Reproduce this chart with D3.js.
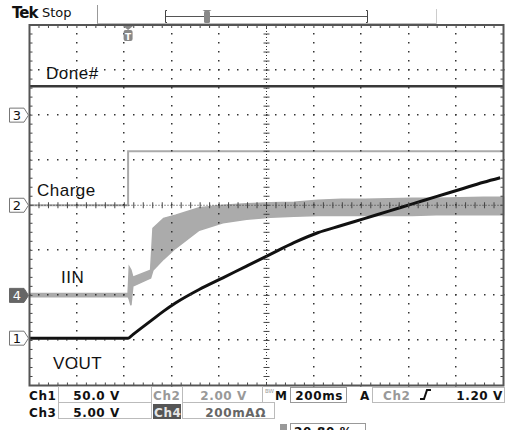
<!DOCTYPE html>
<html>
<head>
<meta charset="utf-8">
<script src="https://cdn.jsdelivr.net/npm/d3@7"></script>
<style>
  body { margin: 0; background: #fff; }
  svg { display: block; }
  .lbl { font-family: "Liberation Sans", Arial, sans-serif; font-size: 17px; letter-spacing: 0.5px; fill: #111; }
  .ro { font-family: "DejaVu Sans", sans-serif; font-size: 12px; font-weight: bold; letter-spacing: 0.6px; }
</style>
</head>
<body>
<div id="scope"></div>
<script>
// time axis in ms relative to trigger (200 ms/div, trigger at 20.8 %)
const timeRange = [-416, 1584];

// Ch1 VOUT (V)
const voutTime = [-416, 0, 20, 50, 100, 150, 200, 300, 400, 500, 600, 700, 800, 900, 1000, 1100, 1200, 1300, 1400, 1500, 1570];
const voutVolts = [0, 0, 4, 10, 20, 30, 39, 54, 67, 80, 93, 106, 117, 125, 133, 141, 149, 157, 165, 173, 178];

// Ch2 Charge (V)
const chargeTime = [-416, 0, 0, 1584];
const chargeVolts = [0, 0, 2.4, 2.4];

// Ch3 Done# (V)
const doneTime = [-416, 1584];
const doneVolts = [3.2, 3.2];

// Ch4 IIN (mA), noisy band: upper and lower envelope
const iinTime = [-416, 0, 5, 12, 20, 95, 105, 150, 200, 300, 400, 500, 600, 700, 800, 900, 1000, 1100, 1200, 1300, 1400, 1500, 1584];
const iinHigh = [8, 8, 125, 112, 81, 112, 298, 342, 356, 389, 400, 407, 411, 413, 422, 427, 427, 429, 431, 431, 433, 435, 435];
const iinLow = [-6, -6, -17, -44, 41, 77, 112, 161, 209, 289, 322, 338, 347, 351, 355, 355, 355, 355, 355, 358, 358, 358, 358];

// channel settings: units per division and reference level (divisions)
const chNames = ["1", "2", "3", "4"];
const chPerDiv = [50, 2, 5, 200];
const chRefDiv = [-2.95, 0, 2, -2];

const W = 505, H = 430;
const plot = {left: 29.5, right: 503.5, top: 25, bottom: 385.5};

const svg = d3.select("#scope").append("svg")
    .attr("width", W)
    .attr("height", H);

const x = d3.scaleLinear().domain(timeRange).range([plot.left, plot.right]);
const y = d3.scaleLinear().domain([-4, 4]).range([plot.bottom, plot.top]);
const xDiv = d3.scaleLinear().domain([0, 10]).range([plot.left, plot.right]);

// value in channel units -> screen y
const chY = (ch, v) => y(chRefDiv[ch] + v / chPerDiv[ch]);

const traces = svg.append("g");

// IIN band
const iinArea = d3.area()
    .x((d, i) => x(iinTime[i]))
    .y0((d, i) => chY(3, iinLow[i]))
    .y1((d, i) => chY(3, iinHigh[i]));
traces.append("path")
    .datum(iinTime)
    .attr("d", iinArea)
    .attr("fill", "#ababab")
    .attr("stroke", "#ababab")
    .attr("stroke-width", 1.5);

// Charge
traces.append("path")
    .datum(chargeTime)
    .attr("d", d3.line().x((d, i) => x(d)).y((d, i) => chY(1, chargeVolts[i])))
    .attr("fill", "none")
    .attr("stroke", "#aaa")
    .attr("stroke-width", 2);

// Done#
traces.append("path")
    .datum(doneTime)
    .attr("d", d3.line().x((d, i) => x(d)).y((d, i) => chY(2, doneVolts[i])))
    .attr("fill", "none")
    .attr("stroke", "#383838")
    .attr("stroke-width", 2.5);

// VOUT
traces.append("path")
    .datum(voutTime)
    .attr("d", d3.line().curve(d3.curveMonotoneX).x(d => x(d)).y((d, i) => chY(0, voutVolts[i])))
    .attr("fill", "none")
    .attr("stroke", "#111")
    .attr("stroke-width", 3);

// graticule
const grat = svg.append("g").attr("fill", "#333");
const minorX = d3.range(0, 50.01, 1).map(i => xDiv(i / 5));
const minorY = d3.range(0, 40.01, 1).map(i => y(-4 + i / 5));
const xc = xDiv(5), yc = y(0);

// dots on grid lines
d3.range(1, 10).filter(k => k !== 5).forEach(k => {
    grat.selectAll(null).data(minorY).enter().append("rect")
        .attr("x", Math.round(xDiv(k)) - 1).attr("y", d => Math.round(d) - 1)
        .attr("width", 1.5).attr("height", 1.5);
});
d3.range(-3, 4).filter(k => k !== 0).forEach(k => {
    grat.selectAll(null).data(minorX).enter().append("rect")
        .attr("x", d => Math.round(d) - 1).attr("y", Math.round(y(k)) - 1)
        .attr("width", 1.5).attr("height", 1.5);
});

// center lines
grat.append("line").attr("x1", plot.left).attr("x2", plot.right).attr("y1", yc).attr("y2", yc)
    .attr("stroke", "#333").attr("stroke-dasharray", "1,2");
grat.append("line").attr("x1", xc).attr("x2", xc).attr("y1", plot.top).attr("y2", plot.bottom)
    .attr("stroke", "#333").attr("stroke-dasharray", "1,2");
grat.selectAll(null).data(minorX).enter().append("line")
    .attr("x1", d => d).attr("x2", d => d).attr("y1", yc - 3).attr("y2", yc + 3)
    .attr("stroke", "#444");
grat.selectAll(null).data(minorY).enter().append("line")
    .attr("y1", d => d).attr("y2", d => d).attr("x1", xc - 3).attr("x2", xc + 3)
    .attr("stroke", "#444");

// frame ticks
grat.selectAll(null).data(minorX).enter().append("line")
    .attr("x1", d => d).attr("x2", d => d).attr("y1", plot.top).attr("y2", plot.top + 3)
    .attr("stroke", "#444");
grat.selectAll(null).data(minorX).enter().append("line")
    .attr("x1", d => d).attr("x2", d => d).attr("y1", plot.bottom - 3).attr("y2", plot.bottom)
    .attr("stroke", "#444");
grat.selectAll(null).data(minorY).enter().append("line")
    .attr("y1", d => d).attr("y2", d => d).attr("x1", plot.left).attr("x2", plot.left + 3)
    .attr("stroke", "#444");
grat.selectAll(null).data(minorY).enter().append("line")
    .attr("y1", d => d).attr("y2", d => d).attr("x1", plot.right - 3).attr("x2", plot.right)
    .attr("stroke", "#444");

grat.append("rect")
    .attr("x", plot.left).attr("y", plot.top)
    .attr("width", plot.right - plot.left).attr("height", plot.bottom - plot.top)
    .attr("fill", "none").attr("stroke", "#555").attr("stroke-width", 2);

// trace labels
const labels = svg.append("g").attr("class", "lbl");
labels.append("text").attr("x", 46).attr("y", 79).text("Done#");
labels.append("text").attr("x", 37).attr("y", 196).text("Charge");
labels.append("text").attr("x", 61).attr("y", 283).text("IIN");
labels.append("text").attr("x", 53).attr("y", 369).text("VOUT");

// channel reference markers on the left
const markers = svg.append("g");
chNames.forEach((n, i) => {
    const my = y(chRefDiv[i]);
    const filled = n === "4";
    markers.append("path")
        .attr("d", `M9.5,${my - 7}H24L28.5,${my}L24,${my + 7}H9.5Z`)
        .attr("fill", filled ? "#666" : "#fff")
        .attr("stroke", filled ? "#666" : "#777");
    markers.append("text")
        .attr("x", 17).attr("y", my + 5)
        .attr("text-anchor", "middle")
        .attr("font-family", "DejaVu Sans, sans-serif")
        .attr("font-size", 13)
        .attr("fill", filled ? "#fff" : "#111")
        .text(n);
});

// trigger marker
const trigX = x(0);
const tm = svg.append("g");
tm.append("path").attr("d", `M${trigX - 5},26H${trigX + 5}L${trigX},30Z`).attr("fill", "#888");
tm.append("rect").attr("x", trigX - 4.5).attr("y", 30).attr("width", 9).attr("height", 11)
    .attr("rx", 2).attr("fill", "#888");
tm.append("text").attr("x", trigX).attr("y", 39.5).attr("text-anchor", "middle")
    .attr("font-family", "DejaVu Sans, sans-serif").attr("font-size", 9).attr("font-weight", "bold")
    .attr("fill", "#fff").text("T");

// header
const hdr = svg.append("g");
hdr.append("text").attr("x", 12).attr("y", 18)
    .attr("font-family", "DejaVu Sans, sans-serif").attr("font-size", 15).attr("font-weight", "bold")
    .attr("letter-spacing", -1).attr("fill", "#111").text("Tek");
hdr.append("text").attr("x", 42).attr("y", 17)
    .attr("font-family", "DejaVu Sans, sans-serif").attr("font-size", 13)
    .attr("fill", "#111").text("Stop");
hdr.append("line").attr("x1", 97.5).attr("x2", 97.5).attr("y1", 5).attr("y2", 24).attr("stroke", "#999");
hdr.append("line").attr("x1", 97.5).attr("x2", 436).attr("y1", 23.5).attr("y2", 23.5).attr("stroke", "#bbb");
hdr.append("line").attr("x1", 436.5).attr("x2", 436.5).attr("y1", 9).attr("y2", 24).attr("stroke", "#ccc");
hdr.append("path").attr("d", "M167,10.5H165.5V22.5H167M366,10.5H367.5V22.5H366")
    .attr("fill", "none").attr("stroke", "#444");
hdr.append("line").attr("x1", 166).attr("x2", 367).attr("y1", 16.5).attr("y2", 16.5).attr("stroke", "#555");
hdr.append("rect").attr("x", 204).attr("y", 11).attr("width", 6).attr("height", 12).attr("rx", 1.5).attr("fill", "#888");
hdr.append("path").attr("d", "M202.5,10H211.5L207,13Z").attr("fill", "#888");

// readouts
const ro = svg.append("g").attr("class", "ro");
const box = (x0, y0, w, h, stroke) => ro.append("rect")
    .attr("x", x0).attr("y", y0).attr("width", w).attr("height", h)
    .attr("fill", "none").attr("stroke", stroke || "#bbb");
const txt = (x0, y0, s, fill, anchor) => ro.append("text")
    .attr("x", x0).attr("y", y0).attr("fill", fill || "#111")
    .attr("text-anchor", anchor || "start").text(s);

box(58.5, 386.5, 93, 16);
box(182.5, 386.5, 80, 16);
box(290.5, 387.5, 56, 15, "#999");
box(372.5, 387.5, 132, 15);
box(58.5, 402.5, 93, 16);
box(182.5, 402.5, 92, 16);
box(290.5, 423.5, 75, 12, "#999");

txt(29, 400, "Ch1");
txt(120, 400, "50.0 V", "#111", "end");
txt(153, 400, "Ch2", "#999");
txt(247, 400, "2.00 V", "#999", "end");
ro.append("text").attr("x", 265).attr("y", 393).attr("font-size", 5.5).attr("font-weight", "normal")
    .attr("letter-spacing", 0).attr("fill", "#999").text("BW");
txt(275, 400, "M");
txt(343, 400, "200ms", "#111", "end");
txt(360, 400, "A");
txt(383, 400, "Ch2", "#999");
ro.append("path").attr("d", "M420,399H424L427,390H431").attr("fill", "none").attr("stroke", "#111").attr("stroke-width", 2);
txt(503, 400, "1.20 V", "#111", "end");

txt(29, 417, "Ch3");
txt(120, 417, "5.00 V", "#111", "end");
ro.append("rect").attr("x", 153).attr("y", 404).attr("width", 28).attr("height", 15).attr("fill", "#555");
txt(154, 417, "Ch4", "#e6e6e6");
txt(266, 417, "200mAΩ", "#666", "end");

ro.append("rect").attr("x", 280).attr("y", 424).attr("width", 7).attr("height", 8).attr("fill", "#999");
txt(294, 436, "20.80 %");
</script>
</body>
</html>
